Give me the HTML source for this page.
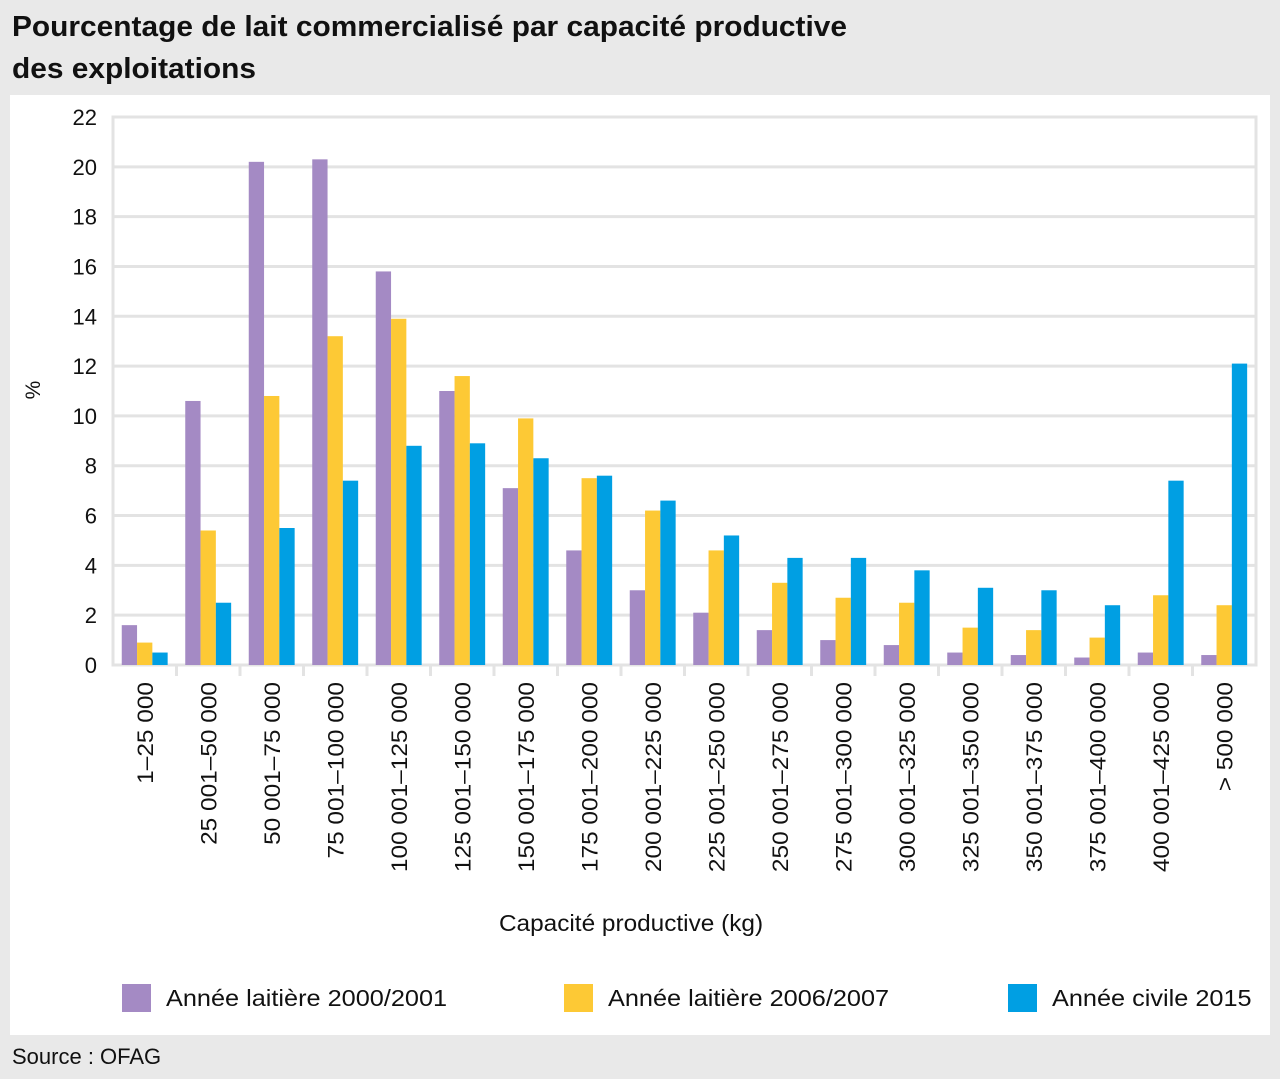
<!DOCTYPE html>
<html><head><meta charset="utf-8"><style>
body{margin:0;width:1280px;height:1079px;background:#e9e9e9;font-family:"Liberation Sans",sans-serif;overflow:hidden;position:relative}
#title{position:absolute;left:12px;top:6px;font-size:29px;font-weight:bold;line-height:42px;color:#111;transform:scaleX(1.03);transform-origin:left top;white-space:nowrap}
#panel{position:absolute;left:10px;top:95px;width:1260px;height:940px;background:#fff}
#source{position:absolute;left:12px;top:1044px;font-size:22px;color:#111;transform:scaleX(1.0);transform-origin:left top}
</style></head><body>
<div id="title">Pourcentage de lait commercialisé par capacité productive<br>des exploitations</div>
<div id="panel"></div>
<svg id="chart" width="1280" height="1079" style="position:absolute;left:0;top:0" font-family="Liberation Sans, sans-serif"></svg>
<div id="source">Source : OFAG</div>
<script>
const categories=["1–25 000","25 001–50 000","50 001–75 000","75 001–100 000","100 001–125 000","125 001–150 000","150 001–175 000","175 001–200 000","200 001–225 000","225 001–250 000","250 001–275 000","275 001–300 000","300 001–325 000","325 001–350 000","350 001–375 000","375 001–400 000","400 001–425 000","> 500 000"];
const s2000=[1.6,10.6,20.2,20.3,15.8,11,7.1,4.6,3,2.1,1.4,1,0.8,0.5,0.4,0.3,0.5,0.4];
const s2006=[0.9,5.4,10.8,13.2,13.9,11.6,9.9,7.5,6.2,4.6,3.3,2.7,2.5,1.5,1.4,1.1,2.8,2.4];
const s2015=[0.5,2.5,5.5,7.4,8.8,8.9,8.3,7.6,6.6,5.2,4.3,4.3,3.8,3.1,3.0,2.4,7.4,12.1];
const yTicks=[0,2,4,6,8,10,12,14,16,18,20,22];
const seriesNames=["Année laitière 2000/2001","Année laitière 2006/2007","Année civile 2015"];
const colors=["#a48ac4","#fdc935","#009fe3"];
const NS="http://www.w3.org/2000/svg";
const svg=document.getElementById('chart');
const L=113,R=1256,T=117,B=665,yMax=22;
const bw=(R-L)/categories.length;
const y=v=>B-v/yMax*(B-T);
const x=i=>L+bw*i;
function mk(t,a){const e=document.createElementNS(NS,t);for(const k in a)e.setAttribute(k,a[k]);svg.appendChild(e);return e;}
let e=mk('rect',{x:L,y:T,width:R-L,height:B-T,fill:'none',stroke:'#e3e3e3','stroke-width':3});


yTicks.forEach(t=>{
 let g=mk('line',{x1:L,x2:R,y1:y(t),y2:y(t),stroke:'#e3e3e3','stroke-width':3});
 
 
 let l=mk('text',{x:97,y:y(t)+8,'text-anchor':'end','font-size':22,fill:'#111'});
 l.textContent=t;
 
 
});
for(let i=1;i<categories.length;i++){
 let tk=mk('line',{x1:x(i),x2:x(i),y1:B,y2:B+11,stroke:'#e3e3e3','stroke-width':3});
 
 
}
const series=[s2000,s2006,s2015];
categories.forEach((c,i)=>{
 const cx=x(i)+bw/2, w=15.3;
 series.forEach((s,j)=>{
  let r=mk('rect',{x:cx-23+j*w,y:y(s[i]),width:w,height:B-y(s[i]),fill:colors[j]});
  
  
 });
 let l=mk('text',{x:0,y:0,'text-anchor':'end','font-size':22,fill:'#111',transform:`translate(${cx+8},682) rotate(-90) scale(1.11,1)`});
 l.textContent=c;
 
 
});
let yt=mk('text',{x:0,y:0,'text-anchor':'middle','font-size':21,fill:'#111',transform:'translate(40,390) rotate(-90)'});
yt.textContent='%';


let xt=mk('text',{x:0,y:0,'text-anchor':'middle','font-size':23,fill:'#111',transform:'translate(631,931) scale(1.06,1)'});
xt.textContent='Capacité productive (kg)';


const lx=[122,564,1008];
seriesNames.forEach((n,j)=>{
 let r=mk('rect',{x:lx[j],y:984,width:29,height:28,fill:colors[j]});
 
 
 let t=mk('text',{x:0,y:0,'font-size':23,fill:'#111',transform:`translate(${lx[j]+44},1006) scale(1.1,1)`});
 t.textContent=n;
 
 
});
</script>
</body></html>
